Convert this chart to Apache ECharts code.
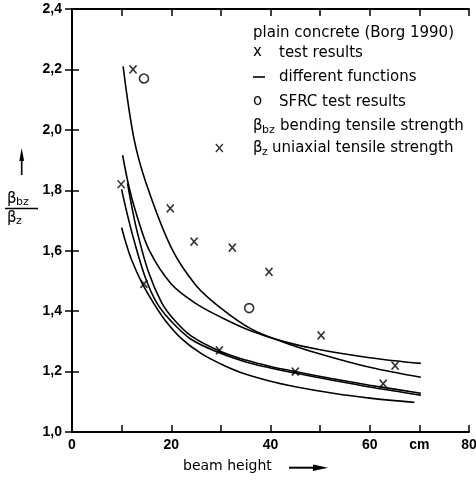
<!DOCTYPE html>
<html>
<head>
<meta charset="utf-8">
<title>bending / uniaxial tensile strength vs beam height</title>
<script src="https://cdn.jsdelivr.net/npm/echarts@6/dist/echarts.min.js"></script>
<style>
  html, body { margin: 0; padding: 0; background: #fff; }
  #chart { width: 476px; height: 481px; }
</style>
</head>
<body>
<div id="chart"></div>
<script>
// tick labels (comma decimals, "cm" sits on the 70 tick)
const xTickValues = [0, 10, 20, 30, 40, 50, 60, 70, 80];
const xTickLabels = ['0', '', '20', '', '40', '', '60', 'cm', '80'];
const yTickValues = [1.0, 1.2, 1.4, 1.6, 1.8, 2.0, 2.2, 2.4];
const yTickLabels = ['1,0', '1,2', '1,4', '1,6', '1,8', '2,0', '2,2', '2,4'];

// test results (x marks)
const testX = [12.3, 9.9, 19.8, 24.6, 29.7, 32.3, 39.7, 50.2, 45.0, 62.7, 65.1, 14.5, 29.7];
const testY = [2.20, 1.82, 1.74, 1.63, 1.94, 1.61, 1.53, 1.32, 1.20, 1.16, 1.22, 1.49, 1.27];

// SFRC test results (circles)
const sfrcX = [14.5, 35.7];
const sfrcY = [2.17, 1.41];

// different functions
const fnAX = [10.3, 12.5, 15, 20, 25, 30, 36, 42.5, 50, 60, 70.3];
const fnAY = [2.21, 1.97, 1.82, 1.61, 1.485, 1.41, 1.342, 1.298, 1.258, 1.214, 1.181];
const fnBX = [10.2, 11.5, 13, 15.6, 20, 25, 30, 36, 42.5, 50, 60, 70.3];
const fnBY = [1.916, 1.81, 1.72, 1.60, 1.49, 1.425, 1.38, 1.335, 1.300, 1.272, 1.246, 1.227];
const fnCX = [11.2, 12, 13.1, 15.4, 18, 20.4, 24, 29.7, 35, 40, 45, 52, 60, 70.3];
const fnCY = [1.823, 1.75, 1.665, 1.53, 1.43, 1.375, 1.318, 1.268, 1.238, 1.217, 1.200, 1.178, 1.155, 1.128];
const fnDX = [10.0, 11, 12.4, 14.7, 17, 19.8, 24, 29.7, 35, 40, 45, 52, 60, 70.3];
const fnDY = [1.803, 1.73, 1.64, 1.515, 1.43, 1.37, 1.307, 1.262, 1.232, 1.212, 1.195, 1.173, 1.149, 1.122];
const fnEX = [10.0, 10.7, 12, 14.2, 16.5, 18.75, 22, 26, 30, 34, 40, 45, 52, 60, 69];
const fnEY = [1.677, 1.635, 1.57, 1.49, 1.425, 1.37, 1.31, 1.26, 1.225, 1.197, 1.168, 1.15, 1.13, 1.112, 1.098];

const zip = (xs, ys) => xs.map((x, i) => [x, ys[i]]);

const textFont = 'DejaVu Sans';
const numFont = 'Liberation Sans';

function curve(xs, ys) {
  return {
    type: 'line',
    data: zip(xs, ys),
    smooth: 0.35,
    showSymbol: false,
    silent: true,
    lineStyle: { color: '#000', width: 1.6 }
  };
}

// small helper for the graphic texts
function txt(x, y, s, size) {
  return {
    type: 'text', x: x, y: y, silent: true,
    style: { text: s, fontFamily: textFont, fontSize: size || 15, fill: '#000', align: 'left', verticalAlign: 'middle' }
  };
}

const chart = echarts.init(document.getElementById('chart'));

const axisLine = { lineStyle: { color: '#000', width: 1.8 } };
const axisTick = { inside: true, length: 7, lineStyle: { color: '#000', width: 1.5 } };

const option = {
  animation: false,
  grid: { left: 72, right: 7, top: 9, bottom: 49, outerBoundsMode: 'none' },
  xAxis: [
    {
      type: 'value', min: 0, max: 80, interval: 10, position: 'bottom',
      axisLine: axisLine, axisTick: axisTick, splitLine: { show: false },
      axisLabel: {
        margin: 6, color: '#000', fontFamily: numFont, fontWeight: 'bold', fontSize: 14,
        formatter: function (v) {
          const i = xTickValues.indexOf(Math.round(v));
          return i >= 0 ? xTickLabels[i] : '';
        }
      }
    },
    {
      // top frame
      type: 'value', min: 0, max: 80, interval: 10, position: 'top',
      axisLine: axisLine, axisTick: axisTick, splitLine: { show: false },
      axisLabel: { show: false }
    }
  ],
  yAxis: [
    {
      type: 'value', min: 1.0, max: 2.4, interval: 0.2, position: 'left',
      axisLine: axisLine, axisTick: axisTick, splitLine: { show: false },
      axisLabel: {
        margin: 10, color: '#000', fontFamily: numFont, fontWeight: 'bold', fontSize: 14,
        formatter: function (v) {
          const i = yTickValues.findIndex(t => Math.abs(t - v) < 1e-6);
          return i >= 0 ? yTickLabels[i] : '';
        }
      }
    },
    {
      // right frame
      type: 'value', min: 1.0, max: 2.4, interval: 0.2, position: 'right',
      axisLine: axisLine, axisTick: axisTick, splitLine: { show: false },
      axisLabel: { show: false }
    }
  ],
  series: [
    curve(fnAX, fnAY),
    curve(fnBX, fnBY),
    curve(fnCX, fnCY),
    curve(fnDX, fnDY),
    curve(fnEX, fnEY),
    {
      type: 'scatter',
      data: zip(testX, testY),
      symbol: 'path://M0,0L10,10M10,0L0,10',
      symbolSize: [7, 8],
      silent: true,
      itemStyle: { color: 'none', borderColor: '#000', borderWidth: 1.6 }
    },
    {
      type: 'scatter',
      data: zip(sfrcX, sfrcY),
      symbol: 'circle',
      symbolSize: 9,
      silent: true,
      itemStyle: { color: '#fff', borderColor: '#000', borderWidth: 1.6 }
    }
  ],
  graphic: [
    // legend block, top right
    txt(253, 33, 'plain concrete (Borg 1990)'),
    txt(253, 52, 'x'),
    txt(279, 53, 'test results'),
    { type: 'line', silent: true, shape: { x1: 253, y1: 77, x2: 265, y2: 77 }, style: { stroke: '#000', lineWidth: 1.6 } },
    txt(279, 77, 'different functions'),
    txt(253, 101, 'o'),
    txt(279, 102, 'SFRC test results'),
    txt(253, 126, 'β'),
    txt(262, 130, 'bz', 11),
    txt(280, 126, 'bending tensile strength'),
    txt(253, 148, 'β'),
    txt(262, 152, 'z', 11),
    txt(272, 148, 'uniaxial tensile strength'),

    // y axis name: arrow and βbz / βz
    { type: 'line', silent: true, shape: { x1: 21.7, y1: 160, x2: 21.7, y2: 175 }, style: { stroke: '#000', lineWidth: 1.6 } },
    { type: 'polygon', silent: true, shape: { points: [[19.3, 161], [21.7, 148], [24.1, 161]] }, style: { fill: '#000' } },
    txt(7, 199, 'β', 15),
    txt(16, 202, 'bz', 11),
    { type: 'line', silent: true, shape: { x1: 5, y1: 208.5, x2: 38, y2: 208.5 }, style: { stroke: '#000', lineWidth: 1.5 } },
    txt(7, 218, 'β', 15),
    txt(16, 221, 'z', 11),

    // x axis name with arrow
    txt(183, 466, 'beam height', 14),
    { type: 'line', silent: true, shape: { x1: 289, y1: 467.7, x2: 316, y2: 467.7 }, style: { stroke: '#000', lineWidth: 2 } },
    { type: 'polygon', silent: true, shape: { points: [[313, 464.5], [328, 467.7], [313, 471]] }, style: { fill: '#000' } }
  ]
};

chart.setOption(option);
</script>
</body>
</html>
